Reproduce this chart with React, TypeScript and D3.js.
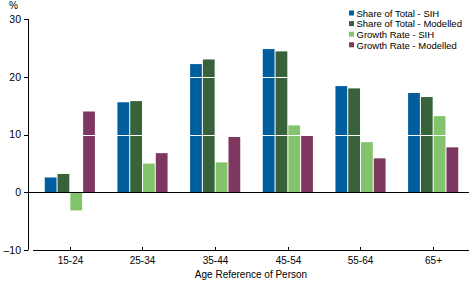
import React from 'react';
import * as d3 from 'd3';

const categories = ['15-24', '25-34', '35-44', '45-54', '55-64', '65+'];
const seriesNames = ['Share of Total - SIH', 'Share of Total - Modelled', 'Growth Rate - SIH', 'Growth Rate - Modelled'];
const shareSIH = [2.6, 15.6, 22.2, 24.8, 18.4, 17.2];
const shareModelled = [3.2, 15.8, 23.0, 24.4, 18.0, 16.5];
const growthSIH = [-3.1, 5.0, 5.2, 11.6, 8.7, 13.2];
const growthModelled = [14.0, 6.8, 9.6, 9.9, 5.9, 7.8];
const yTicks = [-10, 0, 10, 20, 30];
const colors = ['#005E9E', '#37623A', '#82C36B', '#7D3760'];

const W = 472;
const H = 283;
const font = 'Liberation Sans, Arial, sans-serif';

const App = () => {
  const series = [shareSIH, shareModelled, growthSIH, growthModelled];
  const y = d3.scaleLinear().domain([-10, 30]).range([250.3, 19]);
  const x = d3.scaleBand().domain(categories).range([33.5, 469.5]).paddingInner(0.31).paddingOuter(0.155);
  const x1 = d3.scaleBand().domain(seriesNames).range([0, x.bandwidth()]).paddingInner(0.08);

  return (
    <svg width={W} height={H} style={{ position: 'absolute', left: 0, top: 0 }} fontFamily={font}>
      {categories.map((c, i) => (
        <g key={c} transform={`translate(${x(c)},0)`}>
          {series.map((s, j) => {
            const v = s[i];
            return (
              <rect
                key={j}
                x={x1(seriesNames[j])}
                y={y(Math.max(0, v))}
                width={x1.bandwidth()}
                height={Math.abs(y(v) - y(0))}
                fill={colors[j]}
              />
            );
          })}
        </g>
      ))}
      {/* white gridlines over bars */}
      {yTicks.filter((t) => t > 0 && t < 30).map((t) => (
        <line key={t} x1={29} x2={469} y1={Math.round(y(t)) + 0.5} y2={Math.round(y(t)) + 0.5} stroke="#fff" strokeWidth={1} />
      ))}
      {/* zero line */}
      <line x1={28} x2={469} y1={Math.round(y(0)) + 0.5} y2={Math.round(y(0)) + 0.5} stroke="#000" />
      {/* y axis */}
      <line x1={28.5} x2={28.5} y1={y(30)} y2={y(-10)} stroke="#000" />
      {yTicks.map((t) => (
        <g key={t}>
          <line x1={24} x2={28} y1={Math.round(y(t)) + 0.5} y2={Math.round(y(t)) + 0.5} stroke="#000" />
          <text x={21} y={y(t)} dy="0.35em" textAnchor="end" fontSize={10.5} fill="#000">
            {t < 0 ? `\u2013${Math.abs(t)}` : t}
          </text>
        </g>
      ))}
      <text x={9} y={9} fontSize={10} fill="#000">%</text>
      {/* x axis */}
      <line x1={33} x2={469} y1={250.5} y2={250.5} stroke="#000" />
      {categories.map((c) => {
        const cx = Math.round((x(c) ?? 0) + x.bandwidth() / 2) + 0.5;
        return (
          <g key={c}>
            <line x1={cx} x2={cx} y1={247} y2={251} stroke="#000" />
            <text x={cx} y={264} textAnchor="middle" fontSize={10} fill="#000">{c}</text>
          </g>
        );
      })}
      <text x={251} y={278} textAnchor="middle" fontSize={10} fill="#000">Age Reference of Person</text>
      {/* legend */}
      {seriesNames.map((n, j) => (
        <g key={n} transform={`translate(349,${13.5 + j * 10.6})`}>
          <rect x={0} y={-3} width={5} height={5} fill={colors[j]} />
          <text x={7.5} y={0} dy="0.35em" fontSize={9.5} fill="#000">{n}</text>
        </g>
      ))}
    </svg>
  );
};

export default App;
